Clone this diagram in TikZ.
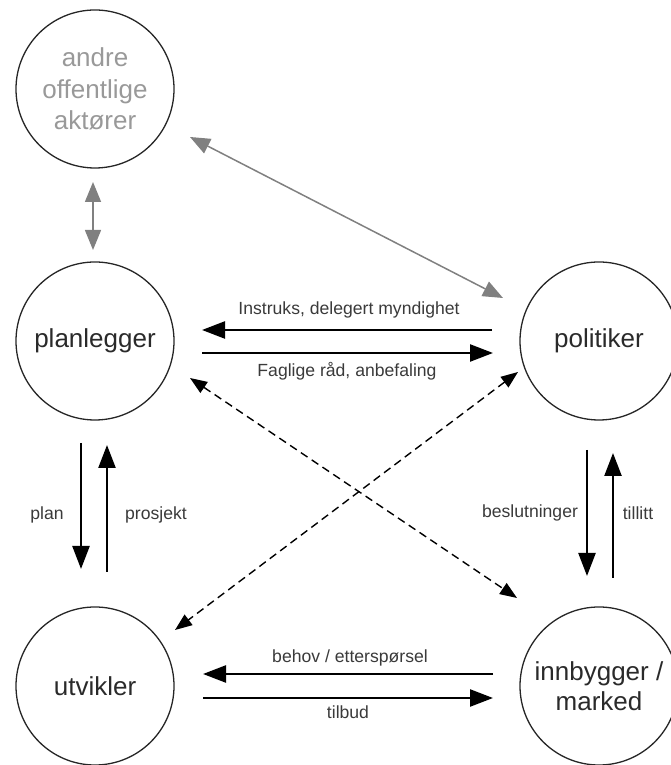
\documentclass[tikz,border=0pt]{standalone}
\usepackage{fontspec}
\setmainfont{Liberation Sans}
\usetikzlibrary{arrows.meta}
\definecolor{txt}{HTML}{2A2A2A}
\definecolor{lbl}{HTML}{3A3A3A}
\definecolor{soft}{HTML}{999999}
\definecolor{link}{HTML}{808080}
\begin{document}
\begin{tikzpicture}[x=1pt,y=1pt,
  actor/.style={circle,draw=black!85,line width=1.3pt,minimum size=158pt,inner sep=0pt,
    align=center,text=txt,font=\fontsize{26}{31.5}\selectfont},
  flow/.style={line width=2.4pt,-{Triangle[length=23pt,width=17pt]}},
  tie/.style={draw=link,line width=1.5pt,{Triangle[length=20pt,width=16pt]}-{Triangle[length=20pt,width=16pt]}},
  cross/.style={line width=1.4pt,dash pattern=on 8pt off 5pt,
    {Triangle[length=17pt,width=13pt]}-{Triangle[length=17pt,width=13pt]}},
  lab/.style={text=lbl,font=\fontsize{17.6}{20}\selectfont}]
\useasboundingbox (0,0) rectangle (670,765);

% actors
\node[actor,text=soft] (andre) at (95,676) {andre\\offentlige\\aktører};
\node[actor] (plan) at (95,424) {planlegger};
\node[actor] (pol) at (599,424) {politiker};
\node[actor] (utv) at (95,79) {utvikler};
\node[actor,font=\fontsize{26}{30}\selectfont] (inn) at (599,79) {innbygger /\\marked};

% arrow end points
\coordinate (pA1) at (492,435); \coordinate (pA2) at (202,435);
\coordinate (pB1) at (202,412); \coordinate (pB2) at (493,412);
\coordinate (uA1) at (493,91);  \coordinate (uA2) at (203,91);
\coordinate (uB1) at (203,67);  \coordinate (uB2) at (493,67);
\coordinate (lA1) at (81,322);  \coordinate (lA2) at (81,196);
\coordinate (lB1) at (107,193); \coordinate (lB2) at (107,320);
\coordinate (rA1) at (587,315); \coordinate (rA2) at (587,189);
\coordinate (rB1) at (613,187); \coordinate (rB2) at (613,312);
\coordinate (gV1) at (93,583);  \coordinate (gV2) at (93,515);
\coordinate (gD1) at (190,628); \coordinate (gD2) at (503,467);
\coordinate (dA1) at (190,387); \coordinate (dA2) at (517,167);
\coordinate (dB1) at (518,393); \coordinate (dB2) at (175,135);

% planlegger <-> politiker
\draw[flow] (pA1) -- (pA2);
\draw[flow] (pB1) -- (pB2);
\node[lab] (l1) at (349,455) {Instruks, delegert myndighet};
\node[lab] (l2) at (347,394) {Faglige råd, anbefaling};

% utvikler <-> innbygger
\draw[flow] (uA1) -- (uA2);
\draw[flow] (uB1) -- (uB2);
\node[lab] (l3) at (350,107) {behov / etterspørsel};
\node[lab] (l4) at (348,53) {tilbud};

% planlegger <-> utvikler
\draw[flow] (lA1) -- (lA2);
\draw[flow] (lB1) -- (lB2);
\node[lab] (l5) at (47,250) {plan};
\node[lab] (l6) at (156,250) {prosjekt};

% politiker <-> innbygger
\draw[flow] (rA1) -- (rA2);
\draw[flow] (rB1) -- (rB2);
\node[lab] (l7) at (530,252) {beslutninger};
\node[lab] (l8) at (638,252) {tillitt};

% other public actors
\draw[tie] (gV1) -- (gV2);
\draw[tie] (gD1) -- (gD2);

% cross links
\draw[cross] (dA1) -- (dA2);
\draw[cross] (dB1) -- (dB2);
\end{tikzpicture}
\end{document}
